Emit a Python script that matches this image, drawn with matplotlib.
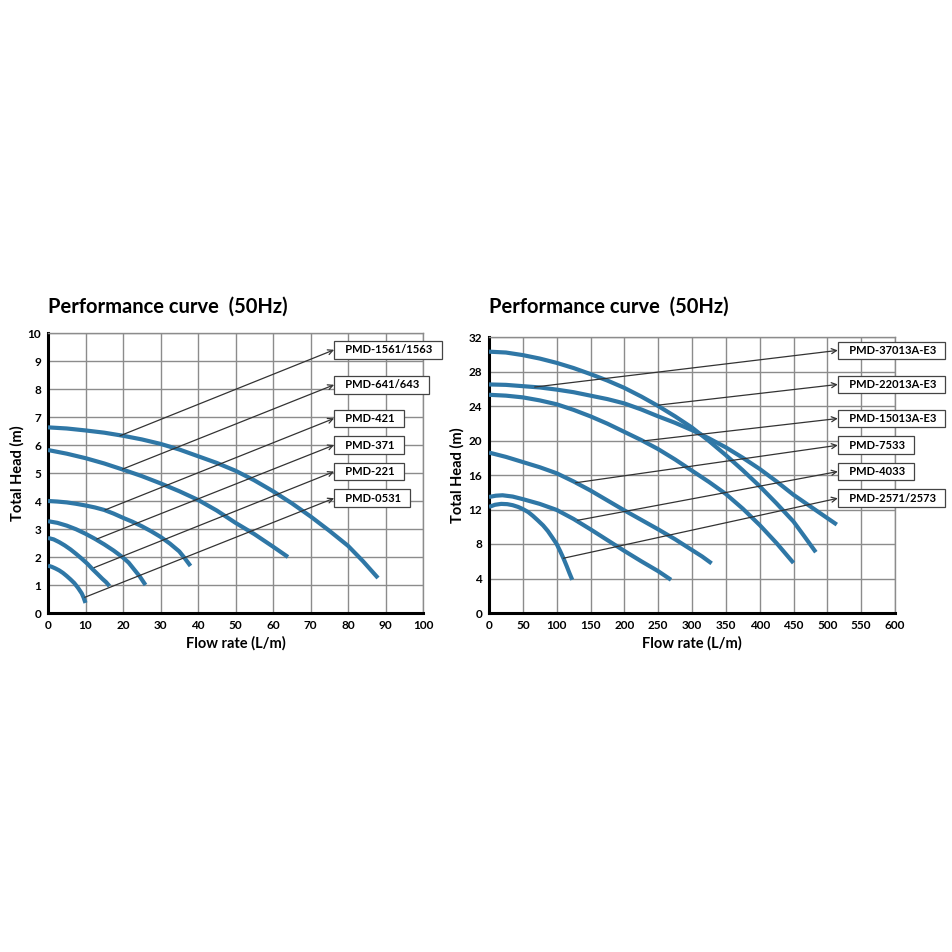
import numpy as np
import matplotlib.pyplot as plt

# ---- datos curva izquierda (0-100 L/m) ----
izq_modelos = ['PMD-1561/1563', 'PMD-641/643', 'PMD-421', 'PMD-371', 'PMD-221', 'PMD-0531']
izq_q = [
    [0, 5, 10, 15, 20, 25, 30, 35, 40, 45, 50, 55, 60, 65, 70, 75, 80, 84, 88],
    [0, 5, 10, 15, 20, 25, 30, 35, 40, 45, 50, 55, 60, 64],
    [0, 2.5, 5, 7.5, 10, 12.5, 15, 17.5, 20, 22.5, 25, 27.5, 30, 32.5, 35, 36.5, 38],
    [0, 2.5, 5, 7.5, 10, 12.5, 15, 17.5, 20, 21.5, 23, 24.5, 26],
    [0, 1.5, 3, 4.5, 6, 7.5, 9, 10.5, 12, 13.3, 14.5, 15.5, 16.4],
    [0, 1, 2, 3, 4, 5, 6, 7, 8, 9, 9.5, 10],
]
izq_h = [
    [6.63, 6.59, 6.52, 6.44, 6.33, 6.2, 6.04, 5.84, 5.6, 5.36, 5.08, 4.74, 4.35, 3.92, 3.45, 2.94, 2.4, 1.85, 1.25],
    [5.82, 5.69, 5.53, 5.34, 5.12, 4.89, 4.63, 4.35, 4.04, 3.66, 3.22, 2.82, 2.37, 2.0],
    [4.0, 3.98, 3.95, 3.9, 3.84, 3.77, 3.68, 3.55, 3.4, 3.26, 3.1, 2.92, 2.72, 2.48, 2.2, 1.95, 1.68],
    [3.28, 3.22, 3.12, 2.99, 2.83, 2.65, 2.45, 2.23, 1.98, 1.8, 1.55, 1.3, 1.0],
    [2.68, 2.63, 2.53, 2.41, 2.27, 2.11, 1.94, 1.76, 1.55, 1.38, 1.22, 1.1, 0.96],
    [1.69, 1.65, 1.59, 1.52, 1.43, 1.32, 1.2, 1.07, 0.9, 0.7, 0.55, 0.36],
]
# inicio de flecha (sobre la curva) y punta (junto a la etiqueta)
izq_ini_q = [19.2, 19.9, 15.2, 13.0, 12.3, 9.8]
izq_ini_h = [6.33, 5.14, 3.68, 2.64, 1.62, 0.56]
izq_fin_q = 76.3
izq_fin_h = [9.4, 8.15, 6.95, 6.0, 5.05, 4.1]

# ---- datos curva derecha (0-600 L/m) ----
der_modelos = ['PMD-37013A-E3', 'PMD-22013A-E3', 'PMD-15013A-E3', 'PMD-7533', 'PMD-4033', 'PMD-2571/2573']
der_q = [
    [0, 25, 50, 75, 100, 125, 150, 175, 200, 225, 250, 275, 300, 325, 350, 375, 400, 425, 450, 465, 483],
    [0, 25, 50, 75, 100, 125, 150, 175, 200, 225, 250, 275, 300, 325, 350, 375, 400, 425, 450, 475, 500, 514],
    [0, 25, 50, 75, 100, 125, 150, 175, 200, 225, 250, 275, 300, 325, 350, 375, 400, 425, 450],
    [0, 25, 50, 75, 100, 125, 150, 175, 200, 225, 250, 275, 300, 315, 329],
    [0, 10, 20, 35, 50, 75, 100, 125, 150, 175, 200, 225, 250, 269],
    [0, 9, 18, 27, 35, 43, 50, 58, 65, 72, 80, 87, 94, 100, 105, 110, 115, 119, 123],
]
der_h = [
    [30.3, 30.2, 29.9, 29.5, 29.0, 28.4, 27.7, 26.95, 26.1, 25.1, 24.0, 22.8, 21.5, 19.95, 18.3, 16.55,
     14.7, 12.7, 10.6, 9.0, 7.05],
    [26.5, 26.45, 26.3, 26.15, 25.9, 25.6, 25.2, 24.8, 24.3, 23.6, 22.8, 22.05, 21.2, 20.25, 19.2, 18.0,
     16.7, 15.25, 13.7, 12.35, 11.0, 10.25],
    [25.3, 25.2, 25.0, 24.65, 24.2, 23.55, 22.8, 21.95, 21.0, 20.05, 19.0, 17.8, 16.5, 15.2, 13.8, 12.1,
     10.2, 8.1, 5.8],
    [18.6, 18.1, 17.5, 16.9, 16.2, 15.25, 14.2, 13.05, 11.9, 10.8, 9.7, 8.55, 7.3, 6.55, 5.75],
    [13.45, 13.6, 13.65, 13.5, 13.2, 12.65, 11.95, 10.9, 9.7, 8.45, 7.2, 6.0, 4.85, 3.85],
    [12.3, 12.55, 12.65, 12.62, 12.5, 12.3, 12.05, 11.7, 11.25, 10.75, 10.15, 9.5, 8.7, 8.0, 7.2, 6.35,
     5.4, 4.6, 3.85],
]
der_ini_q = [67.5, 250, 228, 128, 131, 110]
der_ini_h = [26.2, 24.1, 19.95, 15.1, 10.75, 6.35]
der_fin_q = 515.5
der_fin_h = [30.45, 26.5, 22.55, 19.45, 16.4, 13.3]

azul = '#2f77a6'
gris = '#8c8c8c'
fuente = 'Lato'

fig = plt.figure(figsize=(9.52, 9.52), dpi=100)
fig.patch.set_facecolor('white')


def carta(ax, qs, hs, ini_q, ini_h, fin_q, fin_h, modelos, xmax, ymax, xstep, ystep, ylab_x):
    for q, h in zip(qs, hs):
        ax.plot(q, h, color=azul, lw=3.0, solid_capstyle='butt', solid_joinstyle='round', zorder=3)
    for i in range(len(modelos)):
        ax.annotate('', xy=(fin_q, fin_h[i]), xytext=(ini_q[i], ini_h[i]),
                    arrowprops=dict(arrowstyle='->', color='#333333', lw=0.9,
                                    shrinkA=0, shrinkB=0, mutation_scale=9),
                    annotation_clip=False, zorder=4)
        ax.annotate('   ' + modelos[i] + '  ', xy=(fin_q, fin_h[i]), xytext=(2.4, 0),
                    textcoords='offset points', ha='left', va='center',
                    fontsize=8, fontweight='bold', family=fuente,
                    bbox=dict(boxstyle='square,pad=0.3', fc='white', ec='#444444', lw=0.9),
                    annotation_clip=False, zorder=5)
    ax.set_xlim(0, xmax)
    ax.set_ylim(0, ymax)
    ax.set_xticks(np.arange(0, xmax + 1, xstep))
    ax.set_yticks(np.arange(0, ymax + 1, ystep))
    ax.grid(True, color=gris, lw=1.0)
    ax.set_axisbelow(True)
    ax.tick_params(length=0, pad=5, labelsize=8.5)
    for lab in ax.get_xticklabels() + ax.get_yticklabels():
        lab.set_family(fuente)
        lab.set_fontweight('bold')
    for s in ['left', 'bottom']:
        ax.spines[s].set_linewidth(2.2)
        ax.spines[s].set_color('black')
    for s in ['top', 'right']:
        ax.spines[s].set_linewidth(1.0)
        ax.spines[s].set_color(gris)
    ax.set_xlabel('Flow rate (L/m)', fontsize=10.5, fontweight='bold', family=fuente, labelpad=4)
    ax.set_ylabel('Total Head (m)', fontsize=10.5, fontweight='bold', family=fuente)
    ax.yaxis.set_label_coords(ylab_x, 0.5)


ax1 = fig.add_axes([48 / 952, 1 - 613 / 952, 375 / 952, 280 / 952])
carta(ax1, izq_q, izq_h, izq_ini_q, izq_ini_h, izq_fin_q, izq_fin_h, izq_modelos, 100, 10, 10, 1, -0.062)

ax2 = fig.add_axes([489 / 952, 1 - 613 / 952, 406 / 952, 276 / 952])
carta(ax2, der_q, der_h, der_ini_q, der_ini_h, der_fin_q, der_fin_h, der_modelos, 600, 32, 50, 4, -0.06)

for x0 in [48, 489]:
    fig.text(x0 / 952, 1 - 307 / 952, 'Performance curve  (50Hz)', fontsize=14.5, family=fuente,
             fontweight='bold', va='center', ha='left')

plt.savefig('out.png', dpi=100, facecolor='white')
